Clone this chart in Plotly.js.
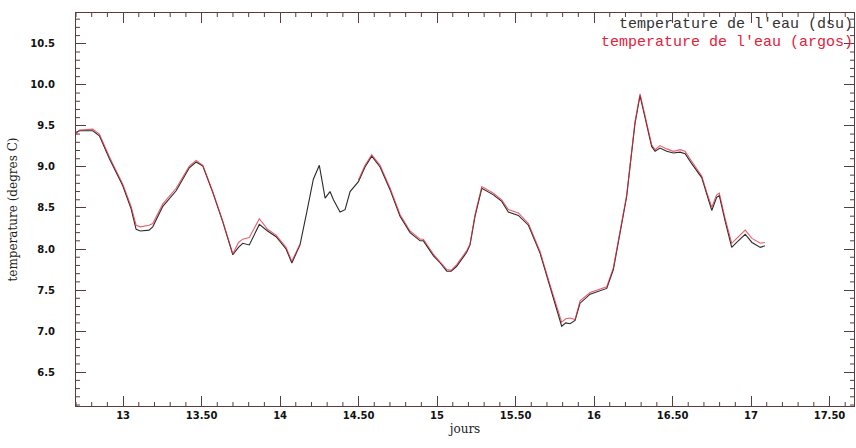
<!DOCTYPE html>
<html>
<head>
<meta charset="utf-8">
<script src="https://cdn.plot.ly/plotly-3.0.1.min.js"></script>
<style>html,body{margin:0;padding:0;background:#fff;}#chart{width:856px;height:448px;}</style>
</head>
<body>
<div id="chart"></div>
<script>
// jours (days) and water temperature (degres C)
const joursDsu = [12.700,12.722,12.807,12.849,12.913,12.998,13.051,13.083,13.110,13.140,13.165,13.189,13.253,13.338,13.422,13.465,13.508,13.571,13.635,13.699,13.735,13.762,13.804,13.868,13.920,13.975,14.038,14.075,14.127,14.170,14.212,14.250,14.287,14.318,14.340,14.382,14.414,14.446,14.499,14.541,14.584,14.637,14.701,14.764,14.828,14.892,14.913,14.976,15.020,15.062,15.090,15.125,15.189,15.210,15.242,15.285,15.359,15.412,15.454,15.518,15.582,15.656,15.720,15.773,15.794,15.820,15.847,15.879,15.911,15.975,16.038,16.081,16.123,16.166,16.208,16.229,16.261,16.293,16.325,16.367,16.389,16.420,16.463,16.505,16.548,16.580,16.622,16.686,16.718,16.750,16.781,16.798,16.834,16.877,16.909,16.963,17.006,17.059,17.089];
const tempDsu  = [9.42,9.44,9.44,9.38,9.10,8.77,8.49,8.24,8.22,8.23,8.23,8.27,8.52,8.71,8.99,9.06,9.01,8.69,8.33,7.93,8.02,8.07,8.05,8.30,8.22,8.15,8.00,7.83,8.05,8.45,8.85,9.02,8.62,8.70,8.60,8.45,8.48,8.70,8.82,9.00,9.13,9.00,8.72,8.40,8.20,8.10,8.10,7.92,7.83,7.73,7.73,7.79,7.96,8.05,8.40,8.74,8.66,8.58,8.45,8.41,8.29,7.95,7.54,7.22,7.06,7.10,7.09,7.13,7.34,7.45,7.49,7.52,7.75,8.19,8.64,9.00,9.53,9.87,9.61,9.25,9.19,9.23,9.19,9.17,9.18,9.16,9.04,8.87,8.67,8.47,8.63,8.65,8.35,8.02,8.08,8.18,8.08,8.02,8.04];
const joursArgos = [12.700,12.722,12.807,12.849,12.913,12.998,13.051,13.083,13.110,13.140,13.165,13.189,13.253,13.338,13.422,13.465,13.508,13.571,13.635,13.699,13.735,13.762,13.804,13.868,13.920,13.975,14.038,14.075,14.127,14.160,14.450,14.499,14.541,14.584,14.637,14.701,14.764,14.828,14.892,14.913,14.976,15.020,15.062,15.090,15.125,15.189,15.210,15.242,15.285,15.359,15.412,15.454,15.518,15.582,15.656,15.720,15.773,15.794,15.820,15.847,15.879,15.911,15.975,16.038,16.081,16.123,16.166,16.208,16.229,16.261,16.293,16.325,16.367,16.389,16.420,16.463,16.505,16.548,16.580,16.622,16.686,16.718,16.750,16.781,16.798,16.834,16.877,16.909,16.963,17.006,17.059,17.089];
const tempArgos  = [9.40,9.45,9.46,9.40,9.12,8.79,8.52,8.29,8.27,8.28,8.29,8.31,8.55,8.74,9.01,9.08,9.02,8.70,8.34,7.94,8.08,8.12,8.14,8.37,8.24,8.17,8.02,7.85,8.06,null,null,8.84,9.02,9.15,9.02,8.74,8.42,8.22,8.12,8.12,7.94,7.84,7.75,7.74,7.81,7.98,8.06,8.42,8.76,8.68,8.60,8.48,8.44,8.31,7.97,7.56,7.24,7.11,7.15,7.16,7.14,7.37,7.47,7.51,7.54,7.77,8.21,8.66,9.01,9.55,9.89,9.63,9.27,9.21,9.26,9.22,9.19,9.21,9.19,9.07,8.89,8.69,8.51,8.66,8.68,8.38,8.07,8.13,8.23,8.13,8.07,8.08];
// tick label text for the half-day ticks
const xLabelAlias = {"13.5": "13.50", "14.5": "14.50", "15.5": "15.50", "16.5": "16.50", "17.5": "17.50"};
const legendDsu = "temperature de l'eau (dsu)";
const legendArgos = "temperature de l'eau (argos)";

const xRange = [12.70, 17.656];
const yRange = [6.088, 10.875];
const axisColor = '#5a3c3c';
const tickFont = {family: 'DejaVu Sans', size: 10, color: '#111', weight: 'bold'};
const titleFont = {family: 'DejaVu Serif', size: 12, color: '#222'};

const traces = [
  {x: joursDsu, y: tempDsu, mode: 'lines', name: legendDsu,
   line: {color: '#2a2a2a', width: 1.1}, connectgaps: false, hoverinfo: 'skip'},
  {x: joursArgos, y: tempArgos, mode: 'lines', name: legendArgos,
   line: {color: 'rgba(225,40,60,0.75)', width: 1.1}, connectgaps: false, hoverinfo: 'skip'}
];

// small 0.1 ticks on all four sides (axis decoration), placed in data units
const W = 856 - 76 - 2, H = 448 - 13 - 42, minorLen = 4;
const minorShapes = [];
for (let k = Math.ceil(xRange[0] * 10); k <= Math.floor(xRange[1] * 10); k++) {
  if (k % 5 === 0) continue;
  const v = k / 10;
  minorShapes.push({type: 'line', xref: 'x', yref: 'paper', x0: v, x1: v, y0: 0, y1: minorLen / H, line: {color: axisColor, width: 1}, layer: 'above'});
  minorShapes.push({type: 'line', xref: 'x', yref: 'paper', x0: v, x1: v, y0: 1 - minorLen / H, y1: 1, line: {color: axisColor, width: 1}, layer: 'above'});
}
for (let k = Math.ceil(yRange[0] * 10); k <= Math.floor(yRange[1] * 10); k++) {
  if (k % 5 === 0) continue;
  const v = k / 10;
  minorShapes.push({type: 'line', xref: 'paper', yref: 'y', y0: v, y1: v, x0: 0, x1: minorLen / W, line: {color: axisColor, width: 1}, layer: 'above'});
  minorShapes.push({type: 'line', xref: 'paper', yref: 'y', y0: v, y1: v, x0: 1 - minorLen / W, x1: 1, line: {color: axisColor, width: 1}, layer: 'above'});
}

const layout = {
  width: 856, height: 448,
  margin: {l: 76, r: 2, t: 13, b: 42},
  paper_bgcolor: '#fff', plot_bgcolor: '#fff',
  showlegend: false,
  xaxis: {
    range: xRange, showgrid: false, zeroline: false,
    showline: true, linecolor: axisColor, linewidth: 1, mirror: 'ticks',
    ticks: 'inside', ticklen: 10, tickcolor: axisColor, tickwidth: 1,
    tickmode: 'linear', dtick: 0.5, tick0: 13, labelalias: xLabelAlias,
    tickfont: tickFont,
    title: {text: 'jours', font: titleFont, standoff: 4}
  },
  yaxis: {
    range: yRange, showgrid: false, zeroline: false,
    showline: true, linecolor: axisColor, linewidth: 1, mirror: 'ticks',
    ticks: 'inside', ticklen: 10, tickcolor: axisColor, tickwidth: 1,
    tickmode: 'linear', dtick: 0.5, tick0: 6.5, tickformat: '.1f', tickfont: tickFont,
    ticklabelstandoff: 18,
    title: {text: 'temperature (degres C)', font: titleFont, standoff: 10}
  },
  shapes: minorShapes,
  annotations: [
    {xref: 'paper', yref: 'paper', x: 1, y: 1, xanchor: 'right', yanchor: 'top',
     yshift: -2, borderpad: 0, text: legendDsu, showarrow: false,
     font: {family: 'Liberation Mono', size: 15, color: '#333'}},
    {xref: 'paper', yref: 'paper', x: 1, y: 1, xanchor: 'right', yanchor: 'top',
     yshift: -20, borderpad: 0, text: legendArgos, showarrow: false,
     font: {family: 'Liberation Mono', size: 15, color: '#e8203a'}}
  ]
};

Plotly.newPlot('chart', traces, layout, {displayModeBar: false, staticPlot: true});
</script>
</body>
</html>
